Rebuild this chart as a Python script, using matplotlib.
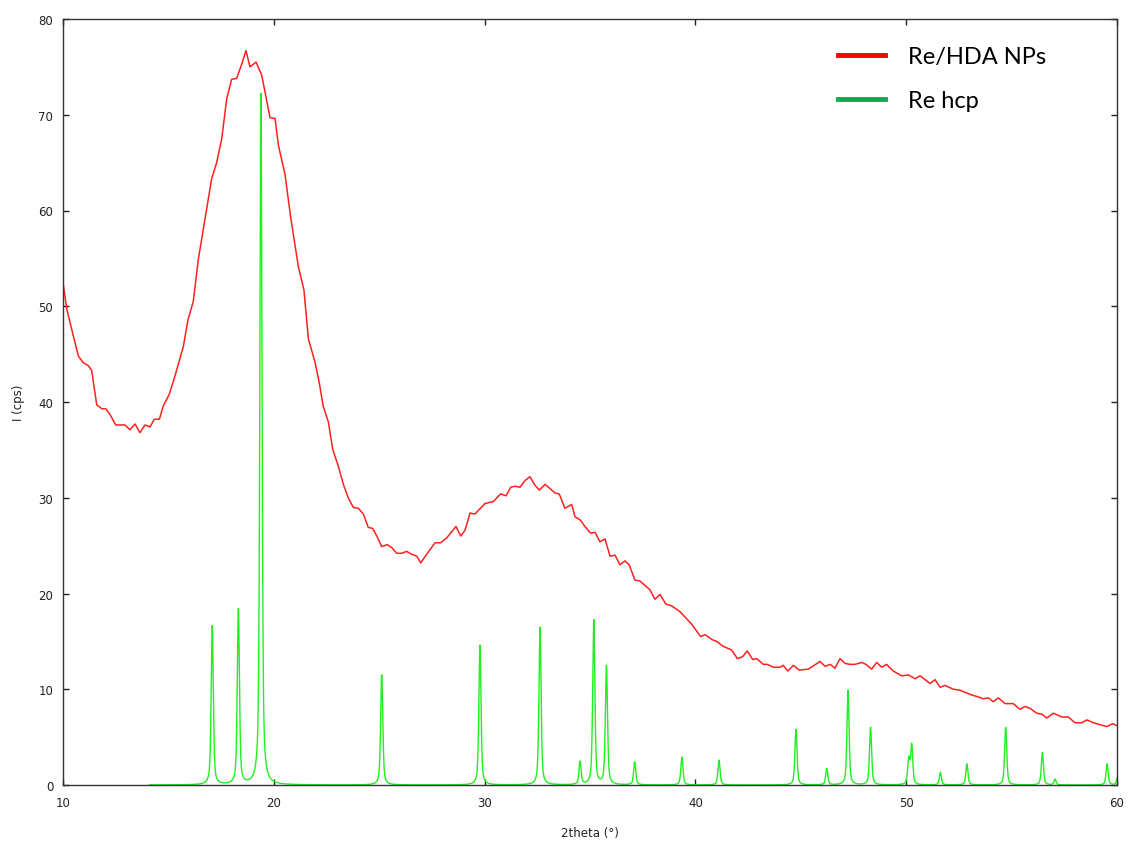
import numpy as np
import matplotlib.pyplot as plt
from matplotlib.lines import Line2D

# ---- measured pattern of the nanoparticles (2theta in deg, intensity in cps)
two_theta_np = [10.01, 10.18, 10.49, 10.73, 10.96, 11.20, 11.36, 11.60, 11.84, 12.03,
                12.23, 12.50, 12.94, 13.18, 13.42, 13.65, 13.89, 14.13, 14.33, 14.57,
                14.76, 15.04, 15.31, 15.71, 15.92, 16.18, 16.42, 16.66, 17.05, 17.29,
                17.53, 17.77, 18.00, 18.24, 18.48, 18.68, 18.87, 19.16, 19.43, 19.82,
                20.06, 20.22, 20.53, 20.80, 21.16, 21.43, 21.64, 21.95, 22.15, 22.34,
                22.59, 22.79, 23.06, 23.30, 23.53, 23.77, 24.01, 24.25, 24.48, 24.69,
                24.91, 25.12, 25.38, 25.59, 25.83, 26.07, 26.30, 26.54, 26.78, 26.97,
                27.25, 27.65, 27.92, 28.20, 28.64, 28.87, 29.07, 29.31, 29.54, 30.02,
                30.41, 30.76, 31.02, 31.24, 31.44, 31.68, 31.92, 32.15, 32.39, 32.60,
                32.87, 33.34, 33.54, 33.81, 34.13, 34.29, 34.53, 34.76, 35.03, 35.24,
                35.47, 35.71, 35.95, 36.19, 36.42, 36.66, 36.86, 37.13, 37.37, 37.84,
                38.08, 38.32, 38.60, 38.88, 39.27, 39.82, 40.25, 40.46, 40.77, 41.01,
                41.30, 41.72, 41.99, 42.24, 42.46, 42.72, 42.91, 43.22, 43.41, 43.70,
                44.01, 44.17, 44.38, 44.65, 44.92, 45.36, 45.91, 46.15, 46.39, 46.62,
                46.86, 47.10, 47.33, 47.57, 47.89, 48.09, 48.36, 48.60, 48.84, 49.07,
                49.39, 49.79, 50.10, 50.42, 50.66, 51.13, 51.37, 51.61, 51.84, 52.24,
                52.55, 53.11, 53.42, 53.66, 53.90, 54.13, 54.37, 54.69, 55.08, 55.40,
                55.64, 55.88, 56.19, 56.43, 56.67, 56.98, 57.38, 57.69, 58.01, 58.33,
                58.57, 58.88, 59.19, 59.51, 59.80, 59.99]
intensity_np = [52.3, 49.7, 46.9, 44.8, 44.1, 43.8, 43.3, 39.7, 39.3, 39.3,
                38.7, 37.6, 37.6, 37.1, 37.7, 36.8, 37.6, 37.4, 38.2, 38.2,
                39.6, 40.8, 42.7, 45.8, 48.5, 50.5, 54.9, 58.1, 63.3, 65.0,
                67.5, 71.7, 73.7, 73.8, 75.3, 76.7, 75.0, 75.5, 74.1, 69.7,
                69.6, 66.8, 63.8, 59.3, 54.2, 51.7, 46.6, 44.2, 42.1, 39.6,
                37.9, 35.1, 33.3, 31.4, 30.0, 29.0, 28.9, 28.3, 26.9, 26.8,
                25.9, 24.9, 25.1, 24.8, 24.2, 24.2, 24.4, 24.1, 23.9, 23.2,
                24.1, 25.3, 25.3, 25.8, 27.0, 26.0, 26.6, 28.4, 28.3, 29.4,
                29.6, 30.4, 30.2, 31.1, 31.2, 31.1, 31.8, 32.2, 31.3, 30.8,
                31.4, 30.5, 30.4, 28.9, 29.3, 28.0, 27.7, 27.0, 26.3, 26.4,
                25.4, 25.7, 23.9, 24.0, 23.0, 23.4, 23.0, 21.4, 21.3, 20.4,
                19.4, 19.9, 18.9, 18.7, 18.1, 16.8, 15.5, 15.7, 15.2, 15.0,
                14.5, 14.1, 13.2, 13.4, 14.0, 13.1, 13.2, 12.6, 12.6, 12.3,
                12.3, 12.5, 11.9, 12.5, 12.0, 12.1, 12.9, 12.4, 12.6, 12.2,
                13.2, 12.7, 12.6, 12.6, 12.8, 12.6, 12.1, 12.8, 12.3, 12.6,
                11.9, 11.4, 11.5, 11.1, 11.4, 10.6, 11.0, 10.2, 10.4, 10.0,
                9.9, 9.4, 9.2, 9.0, 9.1, 8.7, 9.1, 8.5, 8.5, 7.9,
                8.2, 8.0, 7.5, 7.4, 7.0, 7.5, 7.1, 7.1, 6.5, 6.5,
                6.8, 6.5, 6.3, 6.1, 6.4, 6.2]

# ---- reference Re hcp reflections (position, peak height)
peak_pos = [17.08, 18.32, 19.39, 25.12, 29.78, 32.63, 34.53, 35.18, 35.78, 37.12,
            39.36, 41.12, 44.77, 46.23, 47.24, 48.31, 50.12, 50.26, 51.62, 52.88,
            54.72, 56.46, 57.06, 59.53, 60.05]
peak_height = [16.6, 18.3, 72.2, 11.5, 14.6, 16.5, 2.4, 17.2, 12.4, 2.4,
               2.9, 2.6, 5.8, 1.7, 9.9, 6.0, 2.6, 4.1, 1.3, 2.2,
               6.0, 3.4, 0.6, 2.2, 1.2]
ref_start, ref_end = 14.1, 60.0

labels = ["Re/HDA NPs", "Re hcp"]


def pseudo_voigt(x, x0, h, fwhm=0.12, eta=0.55):
    g = fwhm / 2.0
    lor = g**2 / ((x - x0)**2 + g**2)
    gau = np.exp(-np.log(2) * ((x - x0) / g)**2)
    return h * (eta * lor + (1 - eta) * gau)


tt_ref = np.arange(ref_start, ref_end + 0.005, 0.005)
i_ref = np.zeros_like(tt_ref)
for p, h in zip(peak_pos, peak_height):
    i_ref += pseudo_voigt(tt_ref, p, h)

fig = plt.figure(figsize=(11.29, 8.45), dpi=100)
ax = fig.add_axes([63/1129, 1 - 786/845, (1117 - 63)/1129, (786 - 20)/845])

ax.plot(two_theta_np, intensity_np, color='#ff2020', lw=1.1)
ax.plot(tt_ref, i_ref, color='#20f020', lw=1.0)

ax.set_xlim(10, 60)
ax.set_ylim(0, 80)
ax.set_xticks(np.arange(10, 61, 10))
ax.set_yticks(np.arange(0, 81, 10))
ax.tick_params(direction='in', length=4, width=1, top=True, right=True,
               labelsize=8.5, labelcolor='#222222', color='#222222')
ax.tick_params(axis='x', pad=8)
ax.tick_params(axis='y', pad=7)
for s in ax.spines.values():
    s.set_color('#333333')
    s.set_linewidth(1.0)

ax.set_xlabel("2theta (°)", fontsize=8.5, color='#222222', labelpad=12)
ax.set_ylabel("I (cps)", fontsize=8.5, color='#222222', labelpad=10)

handles = [Line2D([], [], color='#ff0000', lw=3.5),
           Line2D([], [], color='#00b050', lw=3.5)]
ax.legend(handles, labels, loc='upper left', frameon=False,
          bbox_to_anchor=(838/1129, 1 - 47/845), bbox_transform=fig.transFigure,
          prop={'family': 'Lato', 'size': 17}, handlelength=2.0,
          handletextpad=0.95, labelspacing=0.97, borderpad=0, borderaxespad=0)

fig.savefig("out.png", dpi=100)
